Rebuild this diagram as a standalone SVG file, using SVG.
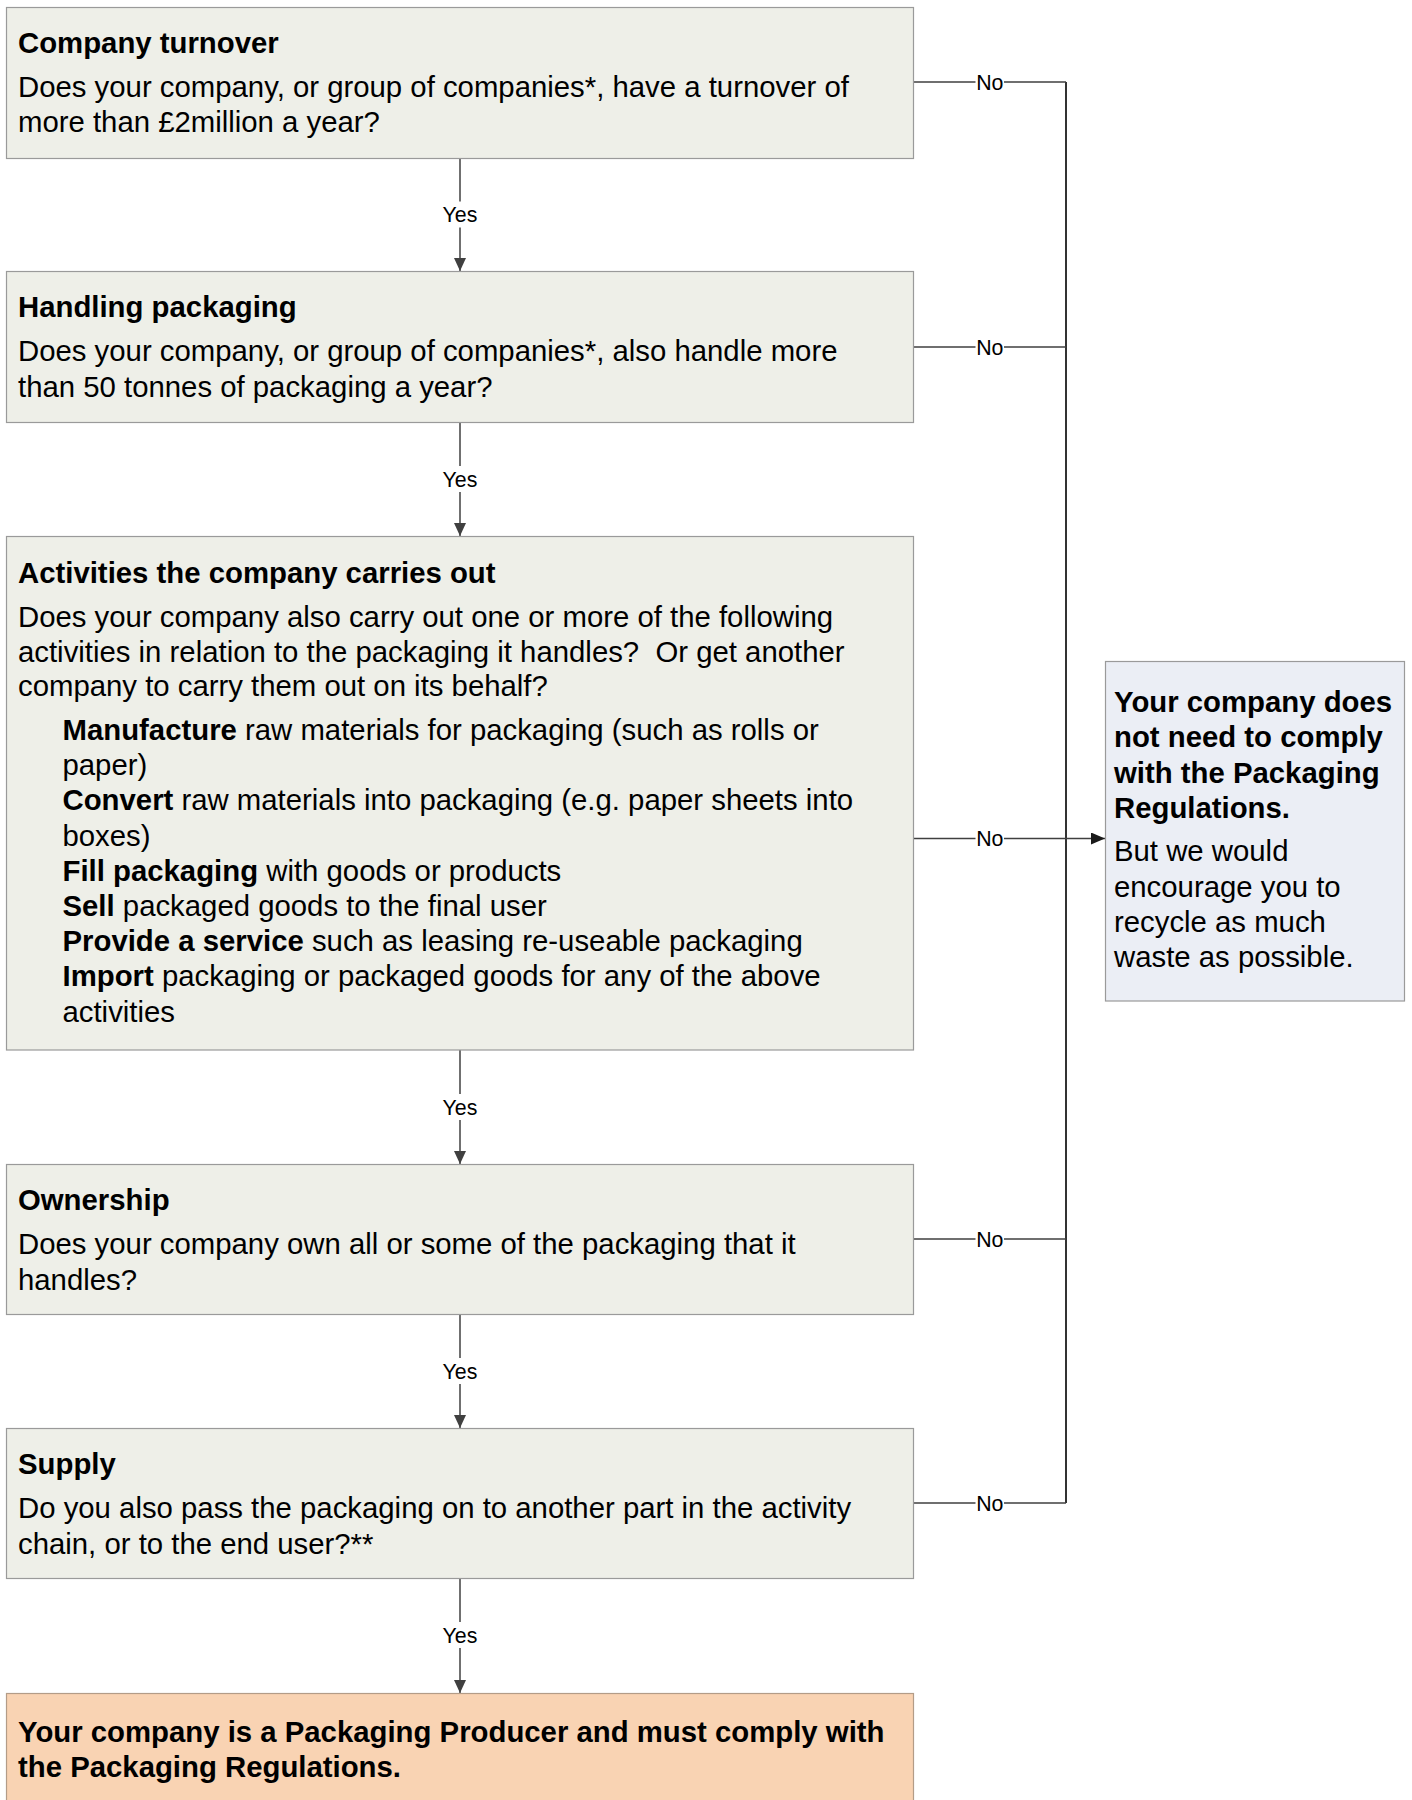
<svg xmlns="http://www.w3.org/2000/svg" width="1412" height="1800" viewBox="0 0 1412 1800">
<style>
text{font-family:"Liberation Sans",Arial,sans-serif;fill:#000}
.t{font-size:29.33px;font-weight:bold}
.b{font-size:29.33px}
.bd{font-weight:bold}
.q{fill:#EEEFE8;stroke:#9A9A9A;stroke-width:1.2}
.r{fill:#EBEEF5;stroke:#9A9A9A;stroke-width:1.2}
.o{fill:#F9D3B3;stroke:#B39C88;stroke-width:1.2}
.c{stroke:#404040;stroke-width:1.5;fill:none}
.s{stroke:#333;stroke-width:2;fill:none}
.lb{font-size:21.33px;text-anchor:middle}
</style>
<defs>
<marker id="ah" markerUnits="userSpaceOnUse" markerWidth="13" markerHeight="12" refX="13" refY="6" orient="auto">
<path d="M0,0 L13,6 L0,12 z" fill="#404040"/>
</marker>
<marker id="ahk" markerUnits="userSpaceOnUse" markerWidth="14" markerHeight="12" refX="14" refY="6" orient="auto">
<path d="M0,0 L14,6 L0,12 z" fill="#1a1a1a"/>
</marker>
</defs>

<g id="connectors">
<path class="c" d="M460,158 V201.5"/>
<path class="c" d="M460,227.5 V271" marker-end="url(#ah)"/>
<text class="lb" x="460" y="222">Yes</text>
<path class="c" d="M460,422.5 V466"/>
<path class="c" d="M460,492 V536" marker-end="url(#ah)"/>
<text class="lb" x="460" y="486.5">Yes</text>
<path class="c" d="M460,1050 V1094"/>
<path class="c" d="M460,1120 V1164" marker-end="url(#ah)"/>
<text class="lb" x="460" y="1114.5">Yes</text>
<path class="c" d="M460,1314.5 V1358"/>
<path class="c" d="M460,1384 V1428" marker-end="url(#ah)"/>
<text class="lb" x="460" y="1378.5">Yes</text>
<path class="c" d="M460,1578.5 V1622"/>
<path class="c" d="M460,1648 V1693" marker-end="url(#ah)"/>
<text class="lb" x="460" y="1642.5">Yes</text>

<path class="s" d="M1066,82 V1503"/>
<path class="c" d="M914,82 H975.5 M1004,82 H1066"/>
<text class="lb" x="989.8" y="89.5">No</text>
<path class="c" d="M914,347 H975.5 M1004,347 H1066"/>
<text class="lb" x="989.8" y="354.5">No</text>
<path class="c" d="M914,838.5 H975.5"/>
<path class="c" d="M1004,838.5 H1105" stroke="#1a1a1a" marker-end="url(#ahk)"/>
<text class="lb" x="989.8" y="846">No</text>
<path class="c" d="M914,1239 H975.5 M1004,1239 H1066"/>
<text class="lb" x="989.8" y="1246.5">No</text>
<path class="c" d="M914,1503 H975.5 M1004,1503 H1066"/>
<text class="lb" x="989.8" y="1510.5">No</text>
</g>

<g id="turnover">
<rect class="q" x="6.5" y="7.5" width="907" height="151"/>
<text class="t" x="18" y="52.5">Company turnover</text>
<text class="b" x="18" y="96.5">Does your company, or group of companies*, have a turnover of</text>
<text class="b" x="18" y="132">more than £2million a year?</text>
</g>

<g id="handling">
<rect class="q" x="6.5" y="271.5" width="907" height="151"/>
<text class="t" x="18" y="317">Handling packaging</text>
<text class="b" x="18" y="361">Does your company, or group of companies*, also handle more</text>
<text class="b" x="18" y="396.5">than 50 tonnes of packaging a year?</text>
</g>

<g id="activities">
<rect class="q" x="6.5" y="536.5" width="907" height="513.5"/>
<text class="t" x="18" y="583">Activities the company carries out</text>
<text class="b" x="18" y="627">Does your company also carry out one or more of the following</text>
<text class="b" x="18" y="661.5" xml:space="preserve">activities in relation to the packaging it handles?  Or get another</text>
<text class="b" x="18" y="696">company to carry them out on its behalf?</text>
<text class="b" x="62.5" y="740"><tspan class="bd">Manufacture</tspan> raw materials for packaging (such as rolls or</text>
<text class="b" x="62.5" y="775.2">paper)</text>
<text class="b" x="62.5" y="810.4"><tspan class="bd">Convert</tspan> raw materials into packaging (e.g. paper sheets into</text>
<text class="b" x="62.5" y="845.6">boxes)</text>
<text class="b" x="62.5" y="880.8"><tspan class="bd">Fill packaging</tspan> with goods or products</text>
<text class="b" x="62.5" y="916"><tspan class="bd">Sell</tspan> packaged goods to the final user</text>
<text class="b" x="62.5" y="951.2"><tspan class="bd">Provide a service</tspan> such as leasing re-useable packaging</text>
<text class="b" x="62.5" y="986.4"><tspan class="bd">Import</tspan> packaging or packaged goods for any of the above</text>
<text class="b" x="62.5" y="1021.6">activities</text>
</g>

<g id="ownership">
<rect class="q" x="6.5" y="1164.5" width="907" height="150"/>
<text class="t" x="18" y="1210">Ownership</text>
<text class="b" x="18" y="1254">Does your company own all or some of the packaging that it</text>
<text class="b" x="18" y="1289.5">handles?</text>
</g>

<g id="supply">
<rect class="q" x="6.5" y="1428.5" width="907" height="150"/>
<text class="t" x="18" y="1474">Supply</text>
<text class="b" x="18" y="1518">Do you also pass the packaging on to another part in the activity</text>
<text class="b" x="18" y="1553.5">chain, or to the end user?**</text>
</g>

<g id="producer">
<rect class="o" x="6.5" y="1693.5" width="907" height="120"/>
<text class="t" x="18" y="1741.5">Your company is a Packaging Producer and must comply with</text>
<text class="t" x="18" y="1777">the Packaging Regulations.</text>
</g>

<g id="not-comply">
<rect class="r" x="1105.5" y="661.5" width="299" height="339.5"/>
<text class="t" x="1114" y="712">Your company does</text>
<text class="t" x="1114" y="747">not need to comply</text>
<text class="t" x="1114" y="782.5">with the Packaging</text>
<text class="t" x="1114" y="818">Regulations.</text>
<text class="b" x="1114" y="861">But we would</text>
<text class="b" x="1114" y="896.5">encourage you to</text>
<text class="b" x="1114" y="931.5">recycle as much</text>
<text class="b" x="1114" y="967">waste as possible.</text>
</g>
</svg>
